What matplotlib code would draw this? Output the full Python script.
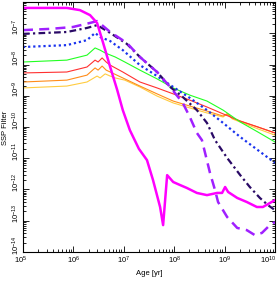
import numpy as np
import matplotlib
matplotlib.use('Agg')
import matplotlib.pyplot as plt
import matplotlib.transforms as mtransforms
from matplotlib.ticker import LogLocator, FuncFormatter, NullFormatter

# values, stored as log10(age) and log10(filter)
mag_age = [5.0, 5.87, 6.13, 6.33, 6.47, 6.59, 6.73, 6.87, 6.98, 7.12, 7.30, 7.46, 7.58, 7.72, 7.78,
           7.86, 7.98, 8.12, 8.25, 8.45, 8.65, 8.85, 8.95, 9.01, 9.07, 9.25, 9.44, 9.64, 9.76, 9.90, 10.0]
mag_val = [-6.19, -6.19, -6.26, -6.42, -6.67, -7.31, -8.08, -8.82, -9.46, -10.10, -10.70, -11.06, -11.70, -12.56, -13.14,
           -11.54, -11.76, -11.86, -11.95, -12.11, -12.18, -12.11, -12.11, -11.92, -12.08, -12.27, -12.40, -12.56, -12.56, -12.43, -12.34]

pdash_age = [5.0, 5.54, 5.99, 6.33, 6.47, 6.59, 6.73, 7.06, 7.32, 7.66, 7.92, 8.17, 8.31, 8.45, 8.55,
             8.71, 8.81, 8.87, 9.05, 9.25, 9.44, 9.60, 9.74, 9.86, 10.0]
pdash_val = [-6.90, -6.86, -6.80, -6.67, -6.61, -6.77, -6.96, -7.31, -7.76, -8.24, -8.72, -9.23, -9.68, -10.19, -10.42,
             -11.47, -12.02, -12.40, -12.88, -13.23, -13.30, -13.46, -13.39, -13.20, -13.04]

dd_age = [5.0, 5.87, 6.27, 6.47, 6.73, 7.06, 7.32, 7.66, 7.92, 8.17, 8.45, 8.65, 8.81, 9.05, 9.31, 9.50, 9.70, 9.86, 10.0]
dd_val = [-7.02, -6.96, -6.83, -6.74, -6.99, -7.34, -7.76, -8.24, -8.72, -9.04, -9.46, -9.87, -10.42, -10.99, -11.54,
          -11.92, -12.27, -12.50, -12.66]

blue_age = [5.0, 5.87, 6.27, 6.43, 6.53, 6.73, 6.98, 7.32, 7.66, 7.98, 8.31, 8.65, 8.97, 9.31, 9.66, 10.0]
blue_val = [-7.44, -7.38, -7.22, -6.99, -7.12, -7.25, -7.54, -8.02, -8.37, -8.72, -9.07, -9.46, -9.87, -10.32, -10.74, -11.15]

green_age = [5.0, 5.87, 6.27, 6.43, 6.53, 6.63, 6.83, 7.02, 7.32, 7.66, 7.98, 8.31, 8.65, 8.97, 9.31, 9.66, 10.0]
green_val = [-7.92, -7.86, -7.70, -7.47, -7.54, -7.63, -7.76, -7.92, -8.18, -8.46, -8.75, -8.98, -9.17, -9.46, -9.84, -10.16, -10.48]

red_age = [5.0, 5.87, 6.27, 6.43, 6.49, 6.57, 6.65, 6.73, 6.98, 7.32, 7.66, 7.98, 8.31, 8.65, 8.97, 9.31, 9.66, 10.0]
red_val = [-8.27, -8.24, -8.08, -7.86, -7.92, -7.79, -7.92, -8.02, -8.24, -8.56, -8.75, -8.94, -9.14, -9.36, -9.58, -9.81, -10.0, -10.19]

orange_age = [5.0, 5.87, 6.27, 6.43, 6.49, 6.57, 6.65, 6.73, 6.98, 7.32, 7.66, 7.98, 8.31, 8.65, 8.97, 9.05, 9.15, 9.31, 9.66, 10.0]
orange_val = [-8.56, -8.50, -8.34, -8.11, -8.18, -8.05, -8.18, -8.24, -8.43, -8.69, -8.94, -9.17, -9.33, -9.49, -9.65, -9.58, -9.71, -9.81, -10.0, -10.19]

yellow_age = [5.0, 5.87, 6.27, 6.47, 6.53, 6.63, 6.73, 6.83, 7.02, 7.32, 7.66, 7.98, 8.31, 8.65, 8.97, 9.05, 9.15, 9.31, 9.66, 10.0]
yellow_val = [-8.75, -8.69, -8.56, -8.37, -8.43, -8.30, -8.37, -8.43, -8.50, -8.72, -9.01, -9.23, -9.39, -9.55, -9.68, -9.58, -9.74, -9.84, -10.06, -10.26]

x_decades = [5, 6, 7, 8, 9, 10]
y_decades = [-14, -13, -12, -11, -10, -9, -8, -7]   # 10^-6 sits on the top edge, unlabelled

plt.rcParams['font.family'] = ['Liberation Sans', 'DejaVu Sans']
plt.rcParams['mathtext.fontset'] = 'custom'
plt.rcParams['mathtext.rm'] = 'Liberation Sans'
plt.rcParams['mathtext.it'] = 'Liberation Sans'

fig = plt.figure(figsize=(2.79, 2.82), dpi=100)
ax = fig.add_axes([0.0824, 0.1064, 0.9033, 0.8865])

def p(a, v):
    return 10 ** np.array(a), 10 ** np.array(v)

# order: back to front
x, y = p(yellow_age, yellow_val); ax.plot(x, y, color='#ffcc40', lw=0.8)
x, y = p(orange_age, orange_val); ax.plot(x, y, color='#ff8c1a', lw=0.8)
x, y = p(red_age, red_val); ax.plot(x, y, color='#ff3030', lw=0.8)
x, y = p(green_age, green_val); ax.plot(x, y, color='#22ff22', lw=0.8)
x, y = p(blue_age, blue_val); ax.plot(x, y, color='#1a33ee', lw=1.6, ls=(0, (1, 1.3)))
x, y = p(dd_age, dd_val); ax.plot(x, y, color='#2a0a66', lw=1.6, ls=(0, (3, 1.5, 1, 1.5)))
x, y = p(pdash_age, pdash_val); ax.plot(x, y, color='#a020ff', lw=1.8, ls=(0, (4, 2.5)))
x, y = p(mag_age, mag_val); ax.plot(x, y, color='#ff00ff', lw=1.8)

ax.set_xscale('log')
ax.set_yscale('log')
ax.set_xlim(1e5, 1e10)
ax.set_ylim(1e-14, 1e-6)

fmt = FuncFormatter(lambda v, pos: '$10^{%d}$' % int(round(np.log10(v))))
ax.set_xticks([10.0 ** d for d in x_decades])
ax.set_yticks([10.0 ** d for d in y_decades])
ax.xaxis.set_minor_locator(LogLocator(base=10, subs=np.arange(2, 10), numticks=20))
ax.yaxis.set_minor_locator(LogLocator(base=10, subs=np.arange(2, 10), numticks=20))
ax.xaxis.set_major_formatter(fmt)
ax.yaxis.set_major_formatter(fmt)
ax.xaxis.set_minor_formatter(NullFormatter())
ax.yaxis.set_minor_formatter(NullFormatter())
ax.tick_params(which='both', direction='in', top=True, right=True, width=0.6, labelsize=5.5)
ax.tick_params(axis='x', pad=2)
ax.tick_params(axis='y', pad=1)
ax.tick_params(which='major', length=4)
ax.tick_params(which='minor', length=2)

# IDL-like label placement: y labels rotated and nudged up, edge x labels pulled inside
up = mtransforms.ScaledTranslation(0, 5 / 72, fig.dpi_scale_trans)
for lab in ax.get_yticklabels():
    lab.set_rotation(90)
    lab.set_va('center')
    lab.set_transform(lab.get_transform() + up)
xl = ax.get_xticklabels()
xl[0].set_transform(xl[0].get_transform() + mtransforms.ScaledTranslation(-2 / 72, 0, fig.dpi_scale_trans))
xl[-1].set_ha('right')
xl[-1].set_transform(xl[-1].get_transform() + mtransforms.ScaledTranslation(1 / 72, 0, fig.dpi_scale_trans))
for sp in ax.spines.values():
    sp.set_linewidth(0.8)

ax.set_xlabel('Age [yr]', fontsize=5.5, labelpad=3)
fig.text(0.018, 0.545, 'SSP Filter', fontsize=5.5, rotation=90, ha='center', va='center')

fig.savefig('out.png', dpi=100)
